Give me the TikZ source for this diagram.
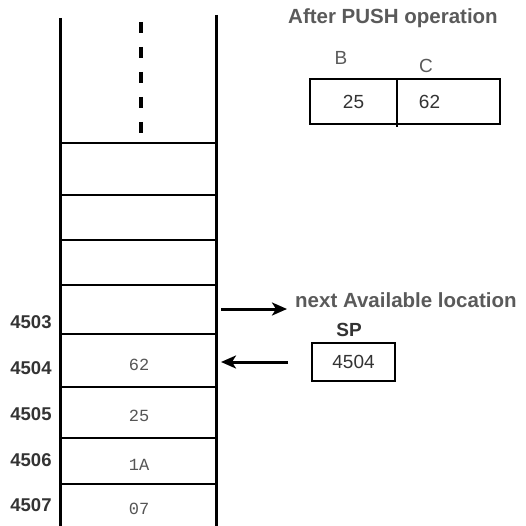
\documentclass[tikz,border=0pt]{standalone}
\usepackage{fontspec}
\setmainfont{Liberation Sans}
\newfontfamily\monof{Liberation Mono}
\usetikzlibrary{arrows.meta}
\definecolor{hdr}{HTML}{5A5A5A}
\definecolor{addr}{HTML}{333333}
\definecolor{val}{HTML}{555555}
\begin{document}
\begin{tikzpicture}[x=1pt,y=-1pt,
  wall/.style={line width=3pt},
  rowline/.style={line width=2.8pt},
  dashline/.style={line width=3.4pt, dash pattern=on 11pt off 14pt},
  addrlbl/.style={font=\fontsize{18.5}{20}\selectfont\bfseries, text=addr, inner sep=0pt},
  cellval/.style={font=\monof\fontsize{17}{19}\selectfont, text=val, inner sep=0pt},
  hdrtxt/.style={font=\fontsize{20.5}{22}\selectfont\bfseries, text=hdr, inner sep=0pt},
  regtxt/.style={font=\fontsize{19}{21}\selectfont, text=addr, inner sep=0pt},
  boxcell/.style={draw, line width=2.8pt, minimum height=45pt, inner sep=0pt},
  arr/.style={line width=3pt, -{Stealth[length=15pt,width=13pt,inset=4pt]}}
]
\useasboundingbox (0,0) rectangle (526,526);
% stack walls
\draw[wall] (60,18) -- (60,526);
\draw[wall] (216,15) -- (216,526);
\foreach \yy in {143,195,240,285,334,387,438,484}
  \draw[rowline] (60,\yy) -- (216,\yy);
\draw[dashline] (141,22) -- (141,135);
% cell values
\node[cellval] (v4504) at (139,365) {62};
\node[cellval] (v4505) at (139,416) {25};
\node[cellval] (v4506) at (139,465) {1A};
\node[cellval] (v4507) at (139,509) {07};
% addresses
\node[addrlbl] (a4503) at (31,322) {4503};
\node[addrlbl] (a4504) at (31,368) {4504};
\node[addrlbl] (a4505) at (31,414) {4505};
\node[addrlbl] (a4506) at (31,460) {4506};
\node[addrlbl] (a4507) at (31,505) {4507};
% cell anchors
\coordinate (c4503) at (221,309);
\coordinate (c4504) at (221,362);
% next available
\node[hdrtxt, anchor=west] (next) at (295,300) {next Available location};
\coordinate (nexttip) at (287,309);
\draw[arr] (c4503) -- (nexttip);
% SP
\node[regtxt, font=\fontsize{19}{21}\selectfont\bfseries] (splbl) at (349,330) {SP};
\node[draw, line width=2.8pt, minimum width=83pt, minimum height=38pt, inner sep=0pt, regtxt] (sp) at (353.5,362) {4504};
\coordinate (spstart) at (288,362);
\draw[arr] (spstart) -- (c4504);
% After PUSH
\node[hdrtxt] (title) at (393,18) {After PUSH operation};
\node[boxcell, minimum width=87pt, regtxt] (regB) at (353.5,101.5) {25};
\node[boxcell, minimum width=103pt, regtxt] (regC) at (448.5,101.5) {\hspace*{-38pt}62};
\draw[line width=2.8pt] (397,79) -- (397,127);
\node[regtxt, text=hdr] (lblB) at (341,58) {B};
\node[regtxt, text=hdr] (lblC) at (426,66) {C};
\end{tikzpicture}
\end{document}
